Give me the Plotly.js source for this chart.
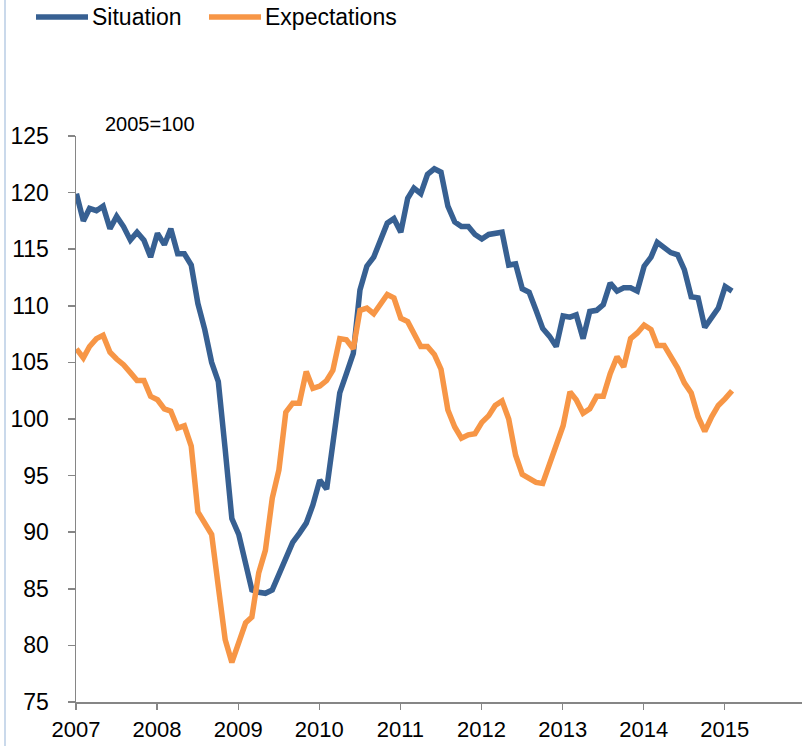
<!DOCTYPE html>
<html>
<head>
<meta charset="utf-8">
<script src="https://cdn.plot.ly/plotly-3.0.1.min.js"></script>
<style>
  html, body { margin: 0; padding: 0; background: #ffffff; }
  #chart { width: 802px; height: 746px; }
</style>
</head>
<body>
<div id="chart"></div>
<script>
// Monthly data, Jan 2007 - Feb 2015 (index 2005=100)
const START_YEAR = 2007;
const START_MONTH = 1;

const situation = [
  // 2007
  119.9, 117.5, 118.6, 118.4, 118.8, 116.8, 117.9, 117.0, 115.8, 116.5, 115.8, 114.3,
  // 2008
  116.4, 115.4, 116.8, 114.6, 114.6, 113.6, 110.2, 107.9, 105.0, 103.3, 97.3, 91.2,
  // 2009
  89.8, 87.0, 84.9, 84.7, 84.6, 84.9, 86.2, 87.8, 89.1, 89.9, 90.8, 92.4,
  // 2010
  94.6, 93.8, 97.6, 102.3, 104.0, 105.8, 111.4, 113.5, 114.3, 115.7, 117.3, 117.7,
  // 2011
  116.5, 119.5, 120.4, 119.9, 121.6, 122.1, 121.8, 118.8, 117.4, 117.0, 117.0, 116.3,
  // 2012
  115.9, 116.3, 116.4, 116.5, 113.6, 113.7, 111.5, 111.2, 109.6, 108.0, 107.3, 106.4,
  // 2013
  109.1, 109.0, 109.2, 107.1, 109.5, 109.6, 110.1, 112.0, 111.3, 111.6, 111.6, 111.3,
  // 2014
  113.5, 114.3, 115.6, 115.2, 114.7, 114.5, 113.2, 110.8, 110.7, 108.1, 109.0, 109.8,
  // 2015
  111.7, 111.3
];

const expectations = [
  // 2007
  106.2, 105.4, 106.4, 107.1, 107.4, 105.9, 105.3, 104.8, 104.1, 103.4, 103.4, 102.0,
  // 2008
  101.7, 100.9, 100.7, 99.2, 99.4, 97.6, 91.8, 90.9, 89.8, 85.2, 80.5, 78.5,
  // 2009
  80.2, 82.0, 82.5, 86.4, 88.4, 93.0, 95.5, 100.6, 101.4, 101.4, 104.2, 102.7,
  // 2010
  102.9, 103.4, 104.3, 107.1, 107.0, 106.2, 109.6, 109.8, 109.3, 110.2, 111.0, 110.7,
  // 2011
  108.9, 108.6, 107.6, 106.4, 106.4, 105.7, 104.4, 100.8, 99.3, 98.3, 98.6, 98.7,
  // 2012
  99.7, 100.3, 101.2, 101.6, 100.0, 96.8, 95.1, 94.7, 94.4, 94.3, 96.0, 98.0,
  // 2013
  99.4, 102.4, 101.7, 100.5, 100.9, 102.0, 102.0, 104.0, 105.5, 104.6, 107.1, 107.6,
  // 2014
  108.3, 107.9, 106.5, 106.5, 105.5, 104.5, 103.2, 102.3, 100.2, 98.9, 100.2, 101.2,
  // 2015
  101.8, 102.5
];

const seriesNames = ["Situation", "Expectations"];
const seriesColors = ["#376092", "#F79646"];
const yTickValues = [75, 80, 85, 90, 95, 100, 105, 110, 115, 120, 125];
const noteText = "2005=100";

// Monthly date labels for the x axis
const months = [];
for (let i = 0; i < situation.length; i++) {
  const total = (START_MONTH - 1) + i;
  const y = START_YEAR + Math.floor(total / 12);
  const m = (total % 12) + 1;
  months.push(y + "-" + String(m).padStart(2, "0") + "-03");
}

const FONT = "Liberation Sans, Arial, sans-serif";
const AXIS_GRAY = "#868686";

const traces = [
  {
    x: months, y: situation, type: "scatter", mode: "lines", name: seriesNames[0],
    line: { color: seriesColors[0], width: 5.5, shape: "linear" }, showlegend: false,
    hoverinfo: "x+y"
  },
  {
    x: months, y: expectations, type: "scatter", mode: "lines", name: seriesNames[1],
    line: { color: seriesColors[1], width: 5.5, shape: "linear" }, showlegend: false,
    hoverinfo: "x+y"
  }
];

// plot area geometry (px) used to place legend decorations in paper coordinates
const L = 76, R = 0, T = 136, B = 44, W = 802, H = 746;
const PW = W - L - R, PH = H - T - B;
const px = v => (v - L) / PW;
const py = v => (H - B - v) / PH;

const legendY = 17;
const shapes = [
  // light blue chart-area border on the left
  { type: "line", xref: "paper", yref: "paper", x0: px(5), x1: px(5), y0: py(0), y1: py(746),
    line: { color: "#B9CDE5", width: 1.5 }, layer: "below" },
  // legend line samples
  { type: "line", xref: "paper", yref: "paper", x0: px(36), x1: px(88), y0: py(legendY), y1: py(legendY),
    line: { color: seriesColors[0], width: 5.5 } },
  { type: "line", xref: "paper", yref: "paper", x0: px(209), x1: px(261), y0: py(legendY), y1: py(legendY),
    line: { color: seriesColors[1], width: 5.5 } }
];

const annotations = [
  { xref: "paper", yref: "paper", x: px(90), y: py(legendY), xanchor: "left", yanchor: "middle",
    text: seriesNames[0], showarrow: false, font: { family: FONT, size: 23, color: "#000" } },
  { xref: "paper", yref: "paper", x: px(263), y: py(legendY), xanchor: "left", yanchor: "middle",
    text: seriesNames[1], showarrow: false, font: { family: FONT, size: 23, color: "#000" } },
  { xref: "paper", yref: "paper", x: px(150), y: py(124), xanchor: "center", yanchor: "middle",
    text: noteText, showarrow: false, font: { family: FONT, size: 20, color: "#000" } }
];

const layout = {
  width: W, height: H,
  margin: { l: L, r: R, t: T, b: B, pad: 0 },
  paper_bgcolor: "#ffffff", plot_bgcolor: "#ffffff",
  font: { family: FONT, color: "#000" },
  showlegend: false,
  xaxis: {
    type: "date",
    range: ["2007-01-01", "2015-12-15"],
    tick0: "2007-01-01", dtick: "M12", tickformat: "%Y",
    ticks: "outside", ticklen: 6, tickwidth: 1.5, tickcolor: AXIS_GRAY,
    showline: true, linecolor: AXIS_GRAY, linewidth: 1.5,
    showgrid: false, zeroline: false,
    tickfont: { family: FONT, size: 22, color: "#000" },
    ticklabelstandoff: 1,
    fixedrange: true
  },
  yaxis: {
    range: [75, 125],
    tickvals: yTickValues,
    ticks: "outside", ticklen: 7, tickwidth: 1.5, tickcolor: AXIS_GRAY,
    showline: true, linecolor: AXIS_GRAY, linewidth: 1.5,
    showgrid: false, zeroline: false,
    tickfont: { family: FONT, size: 23, color: "#000" },
    ticklabelstandoff: 14,
    fixedrange: true
  },
  shapes: shapes,
  annotations: annotations
};

Plotly.newPlot("chart", traces, layout, { displayModeBar: false, staticPlot: true });
</script>
</body>
</html>
